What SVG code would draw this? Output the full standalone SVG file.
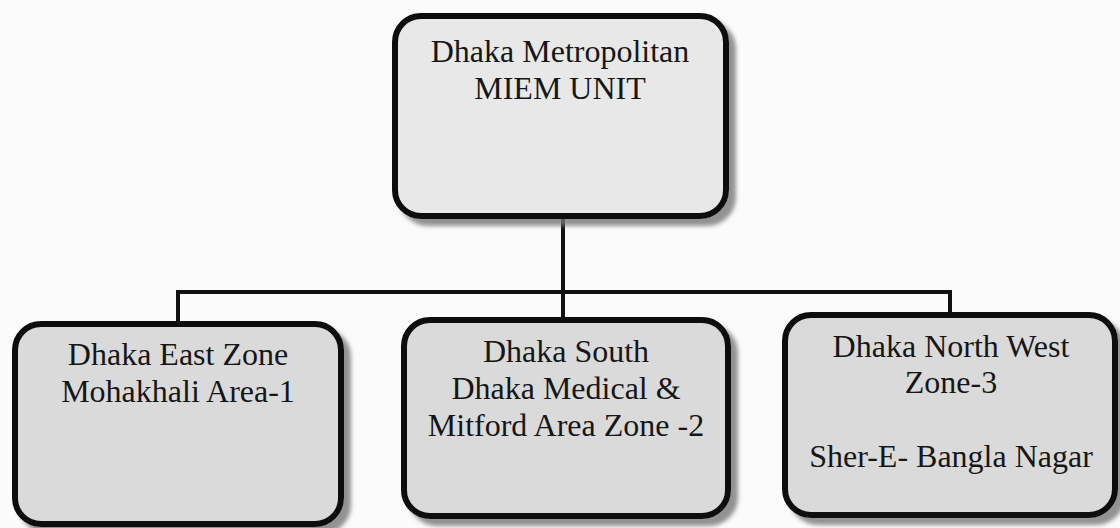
<svg xmlns="http://www.w3.org/2000/svg" width="1120" height="528" viewBox="0 0 1120 528">
  <defs>
    <filter id="shadow" x="-10%" y="-10%" width="125%" height="125%">
      <feDropShadow dx="7" dy="7" stdDeviation="2" flood-color="#777" flood-opacity="0.8"/>
    </filter>
  </defs>
  <style>
    .box { stroke: #111; stroke-width: 6; filter: url(#shadow); }
    .top { fill: #e8e8e8; }
    .zone { fill: #dadada; }
    .lbl { font-family: "Liberation Serif", Tinos, "Times New Roman", serif; font-size: 32px; fill: #161616; text-anchor: middle; }
    .link { stroke: #111; stroke-width: 4; fill: none; stroke-linecap: square; }
  </style>
  <rect width="1120" height="528" fill="#fbfbfb"/>

  <!-- org-chart wiring: trunk, bus and drops -->
  <g id="connectors">
    <line class="link" x1="563" y1="218" x2="563" y2="318"/>
    <line class="link" x1="178" y1="292" x2="950" y2="292"/>
    <line class="link" x1="178" y1="292" x2="178" y2="322"/>
    <line class="link" x1="950" y1="292" x2="950" y2="313"/>
  </g>

  <g id="metro-unit">
    <rect class="box top" x="395" y="16" width="331" height="200" rx="26"/>
    <text class="lbl" x="560" y="62">Dhaka Metropolitan</text>
    <text class="lbl" x="560" y="99">MIEM UNIT</text>
  </g>

  <g id="east-zone">
    <rect class="box zone" x="15" y="324" width="326" height="200" rx="26"/>
    <text class="lbl" x="178" y="365">Dhaka East Zone</text>
    <text class="lbl" x="178" y="402">Mohakhali Area-1</text>
  </g>

  <g id="south-zone">
    <rect class="box zone" x="404" y="320" width="324" height="196" rx="26"/>
    <text class="lbl" x="566" y="362">Dhaka South</text>
    <text class="lbl" x="566" y="399">Dhaka Medical &amp;</text>
    <text class="lbl" x="566" y="436">Mitford Area Zone -2</text>
  </g>

  <g id="northwest-zone">
    <rect class="box zone" x="785" y="315" width="330" height="200" rx="26"/>
    <text class="lbl" x="951" y="357">Dhaka North West</text>
    <text class="lbl" x="951" y="393">Zone-3</text>
    <text class="lbl" x="951" y="467">Sher-E- Bangla Nagar</text>
  </g>
</svg>
